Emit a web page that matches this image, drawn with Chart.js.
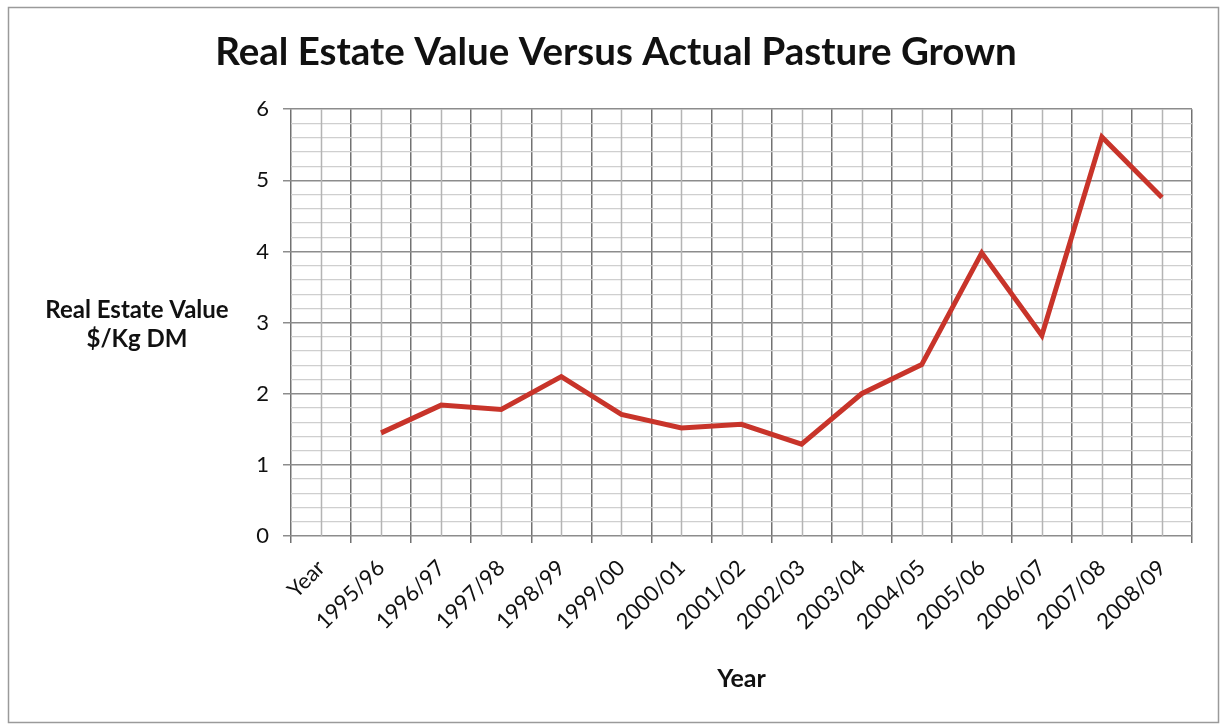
<!DOCTYPE html>
<html>
<head>
<meta charset="utf-8">
<script src="https://cdn.jsdelivr.net/npm/chart.js@4"></script>
<style>
  html, body { margin: 0; padding: 0; background: #fff; }
  #wrap { width: 1220px; height: 726px; }
</style>
</head>
<body>
<div id="wrap"><canvas id="chart" width="1220" height="726"></canvas></div>
<script>
const years = ["Year", "1995/96", "1996/97", "1997/98", "1998/99", "1999/00", "2000/01",
  "2001/02", "2002/03", "2003/04", "2004/05", "2005/06", "2006/07", "2007/08", "2008/09"];
const valuePerKg = [null, 1.45, 1.84, 1.78, 2.24, 1.71, 1.52, 1.57, 1.29, 2.0, 2.41, 3.98, 2.82, 5.61, 4.76];
const yTitleLines = ["Real Estate Value", "$/Kg DM"];

const isMajor = (v) => Math.abs(v - Math.round(v)) < 1e-6;

// outer frame, horizontal y title, light vertical lines through category centres
const extras = {
  id: "extras",
  beforeDatasetsDraw(chart) {
    const { ctx, chartArea, scales } = chart;
    ctx.save();
    ctx.strokeStyle = "#b4b4b4";
    ctx.lineWidth = 1.5;
    years.forEach((_, i) => {
      const x = Math.round(scales.x.getPixelForValue(i)) + 0.5;
      ctx.beginPath();
      ctx.moveTo(x, chartArea.top);
      ctx.lineTo(x, chartArea.bottom);
      ctx.stroke();
    });
    ctx.restore();
  },
  afterDraw(chart) {
    const { ctx } = chart;
    ctx.save();
    ctx.strokeStyle = "#9a9a9a";
    ctx.lineWidth = 1.5;
    ctx.strokeRect(8.5, 7.5, 1210, 715);
    ctx.fillStyle = "#111";
    ctx.font = "bold 24px Lato";
    ctx.textAlign = "center";
    ctx.textBaseline = "middle";
    ctx.fillText(yTitleLines[0], 137, 310);
    ctx.fillText(yTitleLines[1], 137, 339);
    ctx.restore();
  }
};

new Chart(document.getElementById("chart"), {
  type: "line",
  data: {
    labels: years,
    datasets: [{
      data: valuePerKg,
      borderColor: "rgb(200, 52, 42)",
      borderWidth: 5,
      pointRadius: 0,
      tension: 0,
      spanGaps: false
    }]
  },
  options: {
    responsive: false,
    animation: false,
    layout: { padding: { left: 40, right: 28, top: 10, bottom: 0 } },
    plugins: {
      legend: { display: false },
      tooltip: { enabled: false },
      title: {
        display: true,
        text: "Real Estate Value Versus Actual Pasture Grown",
        color: "#111",
        font: { family: "Lato", size: 38.5, weight: "bold" },
        padding: { top: 19, bottom: 34 }
      }
    },
    scales: {
      x: {
        offset: true,
        afterFit: (s) => { s.height = 190; },
        grid: {
          offset: true,
          color: "#727272",
          lineWidth: 1.5,
          tickLength: 7
        },
        border: { display: false },
        ticks: {
          color: "#111",
          font: { family: "Lato", size: 22 },
          minRotation: 45,
          maxRotation: 45,
          autoSkip: false,
          padding: 12
        },
        title: {
          display: true,
          text: "Year",
          color: "#111",
          font: { family: "Lato", size: 25, weight: "bold" },
          padding: { top: 0, bottom: 32 }
        }
      },
      y: {
        min: 0,
        max: 6,
        afterFit: (s) => { s.width = 251; },
        border: { display: false },
        grid: {
          color: (c) => isMajor(c.tick.value) ? "#8c8c8c" : "#cfcfcf",
          lineWidth: (c) => isMajor(c.tick.value) ? 1.5 : 1.2,
          tickColor: (c) => isMajor(c.tick.value) ? "#8c8c8c" : "rgba(0,0,0,0)",
          tickLength: 8
        },
        ticks: {
          stepSize: 0.2,
          autoSkip: false,
          color: "#111",
          font: { family: "Lato", size: 22 },
          padding: 14,
          callback: (v) => isMajor(v) ? String(Math.round(v)) : ""
        }
      }
    }
  },
  plugins: [extras]
});
</script>
</body>
</html>
